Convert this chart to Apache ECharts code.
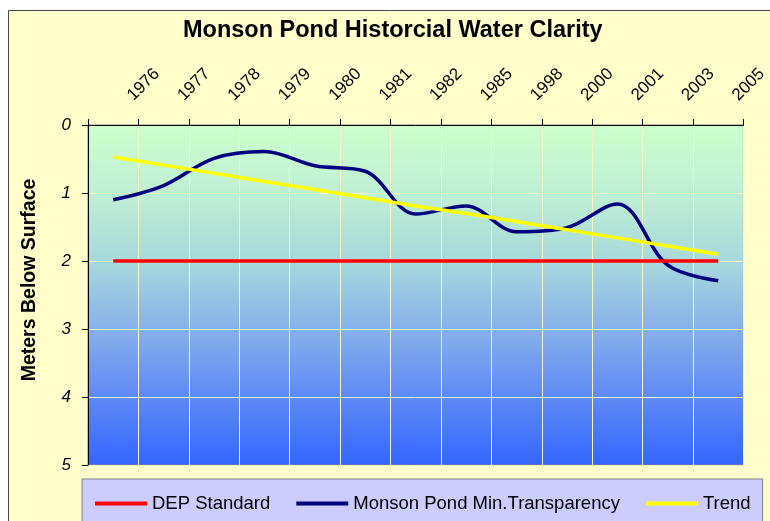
<!DOCTYPE html>
<html>
<head>
<meta charset="utf-8">
<script src="https://cdn.jsdelivr.net/npm/echarts@6/dist/echarts.min.js"></script>
<style>
    body { margin: 0; background: #fff; }
    #chart { width: 770px; height: 521px; }
</style>
</head>
<body>
<div id="chart"></div>
<script>
    // categories on the top axis
    var years = ['1976', '1977', '1978', '1979', '1980', '1981', '1982', '1985', '1998', '2000', '2001', '2003', '2005'];
    // depth values in meters below surface
    var depStandard = [2, 2, 2, 2, 2, 2, 2, 2, 2, 2, 2, 2, 2];
    var minTransparency = [1.10, 0.89, 0.49, 0.39, 0.60, 0.68, 1.31, 1.19, 1.57, 1.51, 1.16, 2.06, 2.29];
    var trend = [0.47, 0.59, 0.71, 0.83, 0.95, 1.07, 1.19, 1.30, 1.42, 1.54, 1.66, 1.78, 1.90];
    var depthTicks = [0, 1, 2, 3, 4, 5];

    var font = 'Arial, "Liberation Sans", sans-serif';

    var myChart = echarts.init(document.getElementById('chart'));
    var option = {
        backgroundColor: '#fff',
        textStyle: { fontFamily: font },
        graphic: [{
            type: 'rect',
            z: -10,
            silent: true,
            shape: { x: 8.5, y: 10.5, width: 800, height: 600 },
            style: { fill: '#FFFFCC', stroke: '#444', lineWidth: 1 }
        }],
        title: {
            text: 'Monson Pond Historcial Water Clarity',
            left: 178,
            top: 14,
            textStyle: { fontSize: 23.5, fontWeight: 'bold', color: '#000', fontFamily: font }
        },
        legend: {
            data: ['DEP Standard', 'Monson Pond Min.Transparency', 'Trend'],
            left: 82,
            top: 479,
            icon: 'rect',
            itemWidth: 52,
            itemHeight: 4,
            itemGap: 26,
            padding: [15, 12, 15, 13],
            backgroundColor: '#CCCCFF',
            borderColor: '#808080',
            borderWidth: 1,
            textStyle: { fontSize: 18.5, color: '#000', fontFamily: font }
        },
        grid: {
            left: 88,
            right: 25,
            top: 125,
            bottom: 56,
            show: true,
            borderColor: '#808080',
            borderWidth: 1,
            backgroundColor: new echarts.graphic.LinearGradient(0, 0, 0, 1, [
                { offset: 0, color: '#CCFFCC' },
                { offset: 0.2, color: '#BFEFD3' },
                { offset: 0.4, color: '#A8D9DC' },
                { offset: 0.6, color: '#87B1EA' },
                { offset: 0.8, color: '#5F89F5' },
                { offset: 1, color: '#3366FF' }
            ])
        },
        xAxis: {
            type: 'category',
            position: 'top',
            data: years,
            boundaryGap: true,
            axisLine: { lineStyle: { color: '#000', width: 1 } },
            axisTick: { show: true, length: 6, lineStyle: { color: '#000' } },
            splitLine: { show: true, lineStyle: { color: '#F4F4C4', width: 1 } },
            axisLabel: {
                rotate: 45,
                margin: 10,
                fontSize: 17,
                color: '#000',
                fontFamily: font,
                interval: 0,
                // empty leading block pushes the rotated year along its baseline
                formatter: function (v) {
                    return '{gap|}{yr|' + v + '}';
                },
                rich: {
                    gap: { width: 24 },
                    yr: { fontSize: 17, color: '#000', fontFamily: font }
                }
            }
        },
        yAxis: {
            type: 'value',
            inverse: true,
            min: depthTicks[0],
            max: depthTicks[depthTicks.length - 1],
            interval: 1,
            name: 'Meters Below Surface',
            nameLocation: 'middle',
            nameRotate: 90,
            nameGap: 48,
            nameTextStyle: { fontSize: 19.5, fontWeight: 'bold', color: '#000', fontFamily: font, padding: [0, 0, 0, 30] },
            axisLine: { show: true, lineStyle: { color: '#000', width: 1 } },
            axisTick: { show: true, length: 6, lineStyle: { color: '#000' } },
            splitLine: { show: true, lineStyle: { color: '#F4F4C4', width: 1 } },
            axisLabel: { fontSize: 17, fontStyle: 'italic', color: '#000', margin: 17, fontFamily: font }
        },
        series: [{
            name: 'DEP Standard',
            type: 'line',
            data: depStandard,
            symbol: 'none',
            z: 3,
            color: '#FF0000',
            lineStyle: { color: '#FF0000', width: 3.5 }
        }, {
            name: 'Monson Pond Min.Transparency',
            type: 'line',
            data: minTransparency,
            symbol: 'none',
            smooth: 0.35,
            z: 2,
            color: '#000080',
            lineStyle: { color: '#000080', width: 3.5 }
        }, {
            name: 'Trend',
            type: 'line',
            data: trend,
            symbol: 'none',
            z: 4,
            color: '#FFFF00',
            lineStyle: { color: '#FFFF00', width: 3.5 }
        }]
    };
    myChart.setOption(option);
</script>
</body>
</html>
